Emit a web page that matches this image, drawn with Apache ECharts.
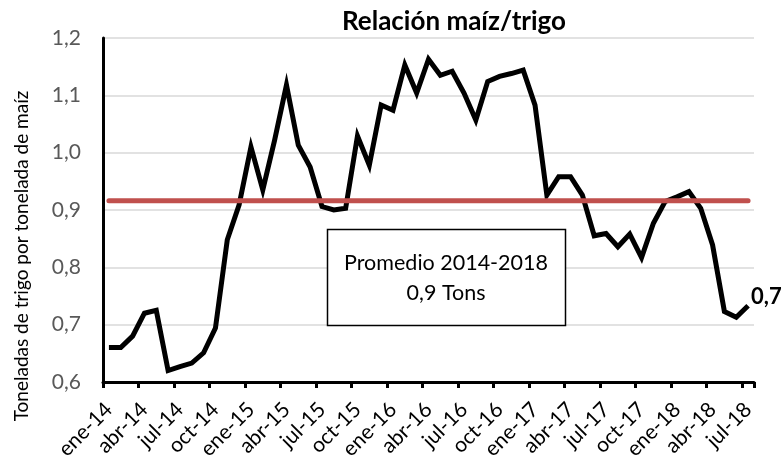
<!DOCTYPE html>
<html>
<head>
<meta charset="utf-8">
<script src="https://cdn.jsdelivr.net/npm/echarts@6/dist/echarts.min.js"></script>
<style>
html,body{margin:0;padding:0;background:#fff;}
#chart{width:783px;height:457px;}
</style>
</head>
<body>
<div id="chart"></div>
<script>
const meses = ['ene','feb','mar','abr','may','jun','jul','ago','sep','oct','nov','dic'];
const anios = ['14','15','16','17','18'];
const categorias = [];
anios.forEach(a => meses.forEach(m => categorias.push(m + '-' + a)));
categorias.length = 55; // ene-14 .. jul-18

const relacion = [
  0.660, 0.660, 0.680, 0.720, 0.725, 0.620, 0.627, 0.633, 0.651, 0.694, 0.848, 0.909,
  1.010, 0.935, 1.022, 1.118, 1.013, 0.975, 0.906, 0.900, 0.903, 1.029, 0.978, 1.083,
  1.074, 1.153, 1.104, 1.163, 1.135, 1.142, 1.104, 1.057, 1.124, 1.133, 1.138, 1.144,
  1.083, 0.926, 0.958, 0.958, 0.926, 0.855, 0.859, 0.836, 0.858, 0.817, 0.877, 0.915,
  0.923, 0.932, 0.903, 0.839, 0.723, 0.713, 0.733
];
const promedio = 0.916;
const promedioLinea = categorias.map(() => promedio);

const titulo = 'Relación maíz/trigo';
const ejeY = 'Toneladas de trigo por tonelada de maíz';
const cajaTexto = 'Promedio 2014-2018\n0,9 Tons';

const FONT = 'Lato, "Open Sans", sans-serif';
const fmt = v => v.toFixed(1).replace('.', ',');

const chart = echarts.init(document.getElementById('chart'));
chart.setOption({
  animation: false,
  backgroundColor: '#fff',
  title: {
    text: titulo, left: 449, top: 4, textAlign: 'center',
    textStyle: {fontFamily: FONT, fontSize: 26, fontWeight: 'bold', color: '#000'}
  },
  grid: {left: 103, right: 29, top: 38, bottom: 75, containLabel: false, outerBoundsMode: 'none'},
  xAxis: {
    type: 'category', data: categorias, boundaryGap: true,
    axisLine: {lineStyle: {color: '#000', width: 3}},
    axisTick: {show: true, interval: 2, length: 6, lineStyle: {color: '#000', width: 3}},
    axisLabel: {interval: 2, rotate: 45, fontFamily: FONT, fontSize: 21, color: '#000', margin: 24},
    splitLine: {show: false}
  },
  yAxis: {
    type: 'value', min: 0.6, max: 1.2, interval: 0.1,
    name: ejeY, nameLocation: 'middle', nameGap: 72, nameRotate: 90,
    nameTextStyle: {fontFamily: FONT, fontSize: 19, color: '#000', padding: [0, 92, 0, 0]},
    axisLine: {show: true, lineStyle: {color: '#000', width: 3}},
    axisTick: {show: false},
    axisLabel: {formatter: v => fmt(v), fontFamily: FONT, fontSize: 21, color: '#595959', margin: 22},
    splitLine: {lineStyle: {color: '#d9d9d9', width: 1.5}}
  },
  series: [
    {
      type: 'line', data: relacion,
      symbol: 'none', showSymbol: false,
      lineStyle: {color: '#000', width: 5, join: 'miter'},
      endLabel: {show: true, distance: 3, offset: [0, -9], formatter: p => fmt(p.value),
        fontFamily: FONT, fontSize: 22, fontWeight: 'bold', color: '#000'},
      z: 2
    },
    {
      type: 'line', data: promedioLinea, symbol: 'none',
      lineStyle: {color: '#c0504d', width: 5, cap: 'round'},
      z: 3
    }
  ],
  graphic: [
    {type: 'rect', z: 100, shape: {x: 327.5, y: 229.5, width: 238, height: 96},
      style: {fill: '#fff', stroke: '#000', lineWidth: 1.5}},
    {type: 'text', z: 101, x: 446, y: 278,
      style: {text: cajaTexto, fontFamily: FONT, fontSize: 21.5, lineHeight: 30, fill: '#000',
        align: 'center', verticalAlign: 'middle'}}
  ]
});
</script>
</body>
</html>
